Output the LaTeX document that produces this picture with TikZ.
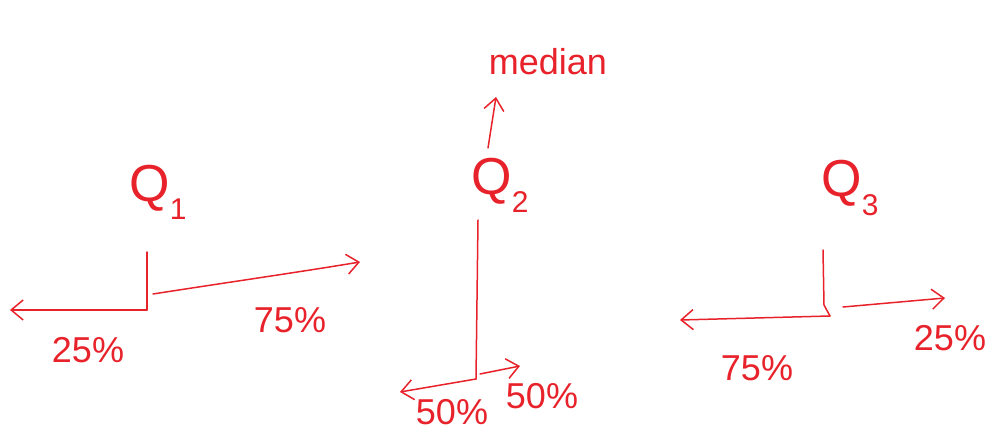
\documentclass[tikz,border=0pt]{standalone}
\usepackage{fontspec}
\setmainfont{Liberation Sans}
\usetikzlibrary{arrows.meta}
\definecolor{ink}{HTML}{E8222A}
\newcommand{\subq}[1]{\raisebox{-0.35em}{\fontsize{30}{32}\selectfont #1}}
\begin{document}
\begin{tikzpicture}[x=1pt,y=-1pt,
  pen/.style={draw=ink,line width=1.5pt,line cap=round,line join=round},
  arr/.style={pen,-{Straight Barb[length=12pt,width=20pt,line width=1.5pt]}},
  qlab/.style={text=ink,font=\fontsize{52}{56}\selectfont,inner sep=0pt},
  plab/.style={text=ink,font=\fontsize{36}{40}\selectfont,inner sep=0pt}]
\useasboundingbox (0,0) rectangle (999,446);
% Q1
\node[qlab] (q1) at (158,192) {Q\subq{1}};
\coordinate (q1top) at (147,252);
\coordinate (q1c) at (147,310);
\coordinate (q1l) at (10,310);
\coordinate (q1s) at (153,294);
\coordinate (q1r) at (360,262);
\draw[pen] (q1top) -- (q1c);
\draw[arr] (q1c) -- (q1l);
\draw[arr] (q1s) .. controls (230,282) and (300,272) .. (q1r);
\node[plab] (p25a) at (88,350) {25\%};
\node[plab] (p75a) at (290,320) {75\%};
% Q2
\node[qlab] (q2) at (500,185) {Q\subq{2}};
\node[plab] (med) at (548,62) {median};
\coordinate (q2top) at (478,220);
\coordinate (q2c) at (476,379);
\coordinate (q2up0) at (488,148);
\coordinate (q2up) at (496,97);
\draw[arr] (q2up0) -- (q2up);
\draw[pen] (q2top) -- (q2c);
\coordinate (q2l) at (400,392);
\coordinate (q2r) at (520,366);
\draw[arr] (q2c) -- (q2l);
\draw[arr] (480,374) -- (q2r);
\node[plab] (p50a) at (452,412) {50\%};
\node[plab] (p50b) at (542,396) {50\%};
% Q3
\node[qlab] (q3) at (850,188) {Q\subq{3}};
\coordinate (q3top) at (823,250);
\coordinate (q3c) at (830,316);
\coordinate (q3l) at (680,320);
\coordinate (q3s) at (843,307);
\coordinate (q3r) at (945,298);
\draw[pen] (q3top) -- (824,305) -- (q3c);
\draw[arr] (q3c) -- (q3l);
\draw[arr] (q3s) -- (q3r);
\node[plab] (p75b) at (757,368) {75\%};
\node[plab] (p25b) at (950,338) {25\%};
\end{tikzpicture}
\end{document}
